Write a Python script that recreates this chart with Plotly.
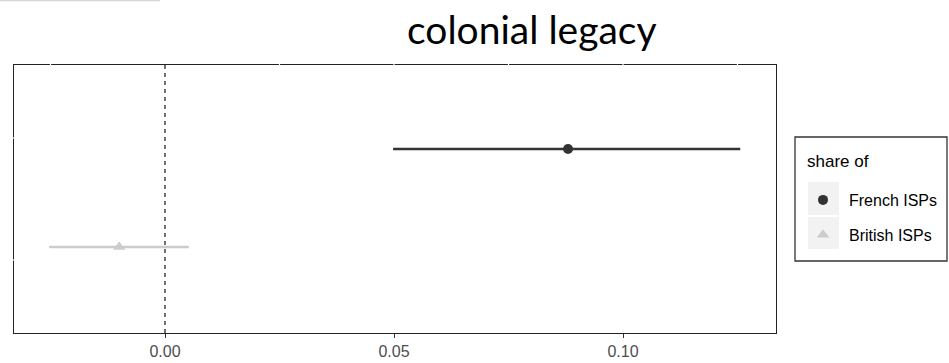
import plotly.graph_objects as go

# ---- data ----
series_names = ["French ISPs", "British ISPs"]
estimates = [0.088, -0.010]
ci_low = [0.0498, -0.0253]
ci_high = [0.1256, 0.0052]
category_order = ["British ISPs", "French ISPs"]
x_tick_vals = [0.00, 0.05, 0.10]
x_tick_text = ["0.00", "0.05", "0.10"]
title_text = "colonial legacy"
legend_title = "share of"

colors = ["#333333", "#CCCCCC"]
symbols = ["circle", "triangle-up"]
sizes = [10, 11]

W, H = 949, 363
ml, mr, mt, mb = 14, 173, 65, 30
pw, ph = W - ml - mr, H - mt - mb

def px_x(p):
    return (p - ml) / pw

def px_y(p):
    return (H - mb - p) / ph

fig = go.Figure()
for i, name in enumerate(series_names):
    fig.add_trace(go.Scatter(
        x=[estimates[i]], y=[name], name=name, mode="markers",
        legendgroup=name,
        marker=dict(color=colors[i], size=sizes[i], symbol=symbols[i]),
        error_x=dict(type="data", symmetric=False,
                     array=[ci_high[i] - estimates[i]],
                     arrayminus=[estimates[i] - ci_low[i]],
                     color=colors[i], thickness=2.6, width=0),
    ))

shapes = []
# dashed zero line
shapes.append(dict(type="line", xref="x", yref="paper", x0=0, x1=0, y0=0, y1=1.012,
                   line=dict(color="#111111", width=1.2, dash="4px,4px"), layer="above"))
# white gaps on border where the grid crosses
for gx in [-0.025, 0.025, 0.05, 0.075, 0.10, 0.125]:
    shapes.append(dict(type="line", xref="x", yref="paper", x0=gx, x1=gx, y0=0.99, y1=1.01,
                       line=dict(color="white", width=1.2), layer="above"))
for gy in [1.112, -0.133]:
    shapes.append(dict(type="line", xref="paper", yref="y", x0=-0.004, x1=0.004, y0=gy, y1=gy,
                       line=dict(color="white", width=1.2), layer="above"))
# legend box
shapes.append(dict(type="rect", xref="paper", yref="paper",
                   x0=px_x(795), x1=px_x(947), y0=px_y(261), y1=px_y(137),
                   line=dict(color="#333333", width=1.3), fillcolor="rgba(0,0,0,0)"))
# legend key backgrounds
for (y0, y1) in [(182, 215), (217, 249)]:
    shapes.append(dict(type="rect", xref="paper", yref="paper",
                       x0=px_x(808), x1=px_x(839), y0=px_y(y1), y1=px_y(y0),
                       line=dict(width=0), fillcolor="#F2F2F2", layer="below"))
# faint grey line at top-left
shapes.append(dict(type="line", xref="paper", yref="paper", x0=px_x(0), x1=px_x(160),
                   y0=px_y(0.5), y1=px_y(0.5), line=dict(color="#D6D6D6", width=1.5)))

fig.update_layout(
    width=W, height=H,
    margin=dict(l=ml, r=mr, t=mt, b=mb, autoexpand=False),
    paper_bgcolor="white", plot_bgcolor="white",
    shapes=shapes,
    showlegend=True,
    legend=dict(
        font=dict(family="Liberation Sans, Arial", size=16, color="black"),
        x=px_x(797), y=px_y(183), xanchor="left", yanchor="top",
        borderwidth=0, bgcolor="rgba(0,0,0,0)",
        itemwidth=42, traceorder="grouped", tracegroupgap=11,
    ),
    annotations=[
        dict(text=title_text, xref="paper", yref="paper",
             x=px_x(532), y=px_y(29), xanchor="center", yanchor="middle",
             showarrow=False, font=dict(family="Lato", size=39, color="black")),
        dict(text=legend_title, xref="paper", yref="paper",
             x=px_x(805), y=px_y(161), xanchor="left", yanchor="middle",
             showarrow=False, font=dict(family="Liberation Sans, Arial", size=17, color="black")),
    ],
)
fig.update_xaxes(
    range=[(ml - 165) / 4580, (W - mr - 165) / 4580],
    tickvals=x_tick_vals, ticktext=x_tick_text,
    showgrid=False, zeroline=False,
    showline=True, mirror=True, linecolor="#222222", linewidth=1.4,
    ticks="outside", ticklen=4, tickcolor="#333333", tickwidth=1,
    tickfont=dict(family="Liberation Sans, Arial", size=16, color="#4D4D4D"),
)
fig.update_yaxes(
    type="category", categoryorder="array", categoryarray=category_order,
    range=[-0.878, 1.857],
    showgrid=False, zeroline=False, showticklabels=False,
    showline=True, mirror=True, linecolor="#222222", linewidth=1.4,
    ticks="",
)
fig.write_html("out.html", config={"displayModeBar": False},
               post_script="document.body.style.margin='0';document.body.style.padding='0';")
